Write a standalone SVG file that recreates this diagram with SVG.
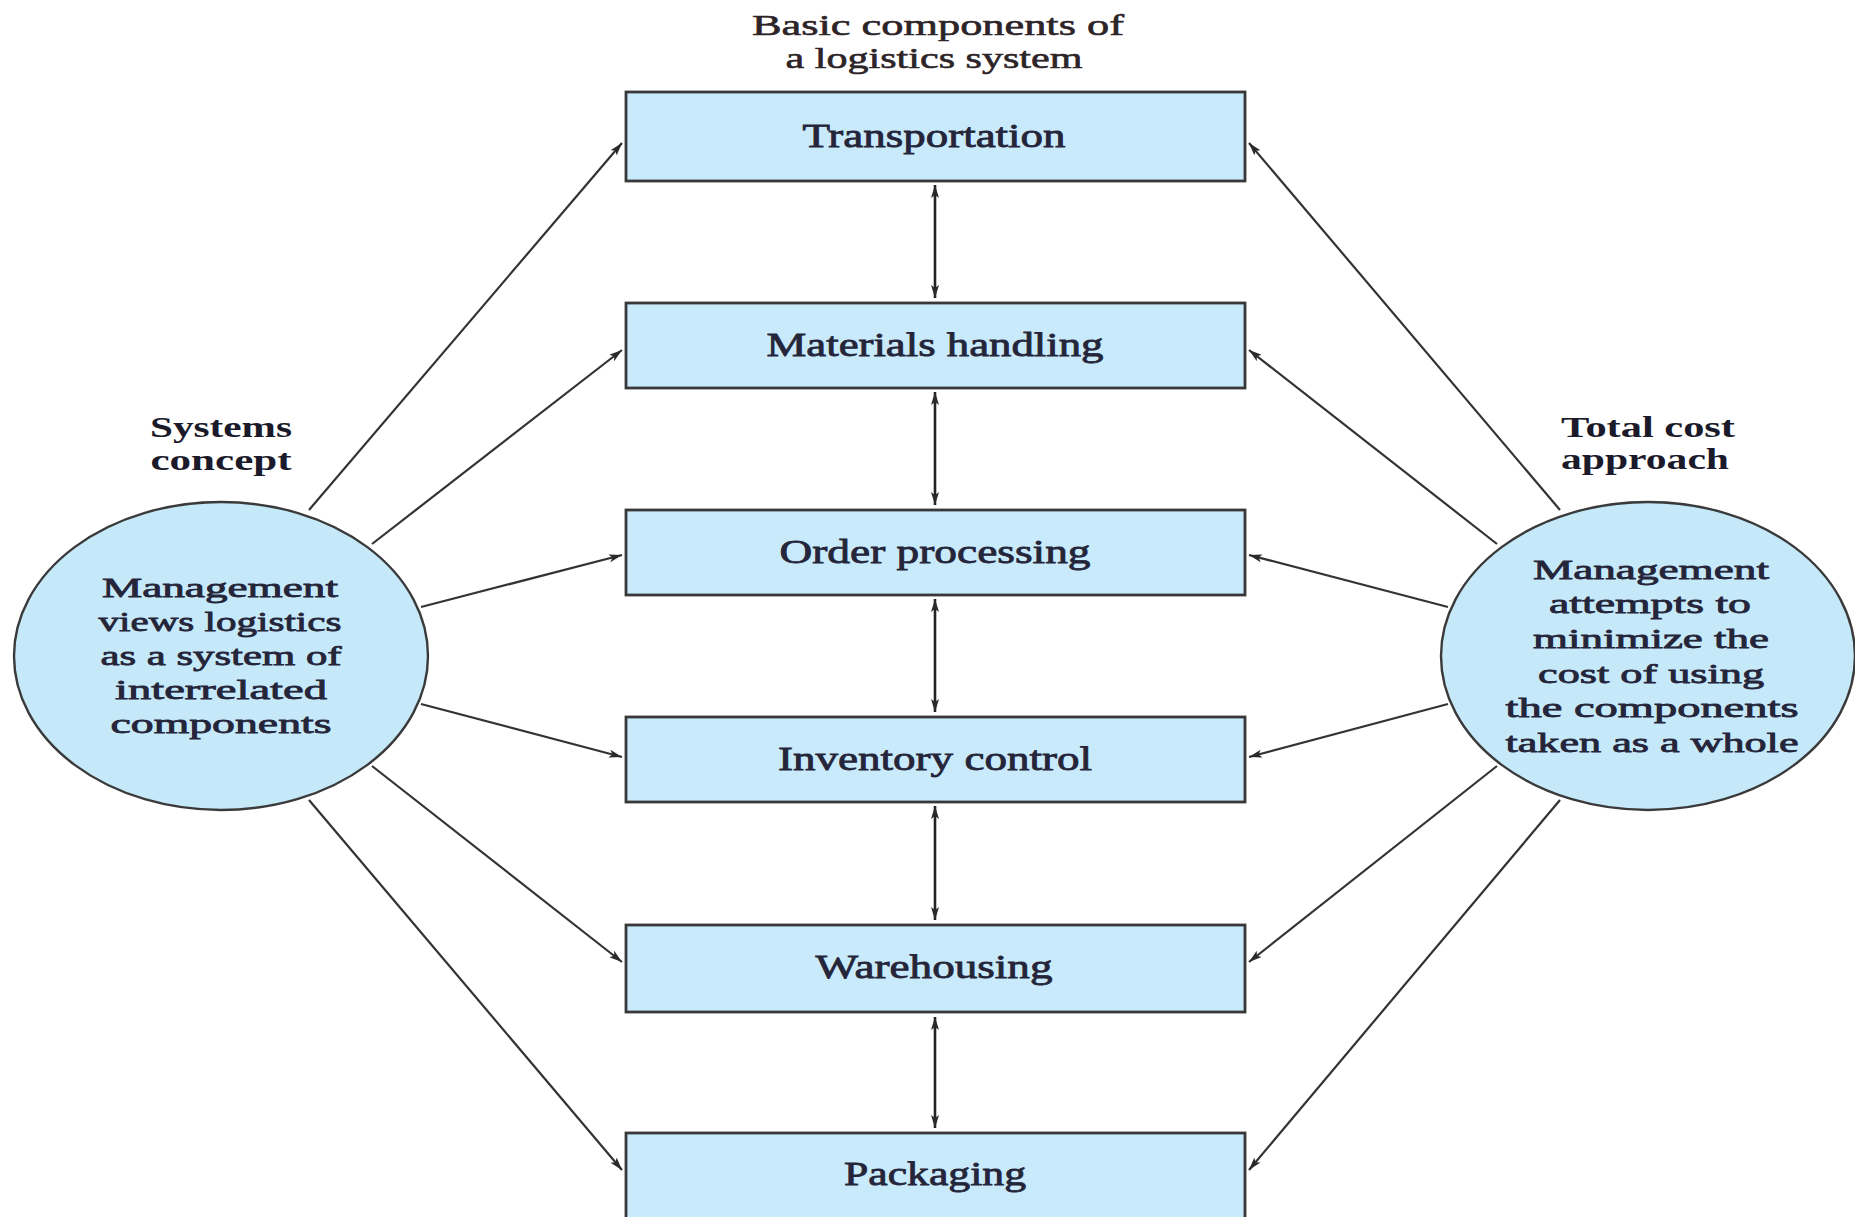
<svg xmlns="http://www.w3.org/2000/svg" width="1855" height="1217" viewBox="0 0 1855 1217">
<defs>
<marker id="ah" markerUnits="userSpaceOnUse" markerWidth="14" markerHeight="10" refX="13" refY="5" orient="auto-start-reverse">
<path d="M0,1 L13,5 L0,9 L3,5 z" fill="#2a2a2a"/>
</marker>
<style>
.box{fill:#c8eafb;stroke:#383838;stroke-width:2.8}
.ell{fill:#c6e9fa;stroke:#3a3a3a;stroke-width:2.4}
.lbl{font-family:"Liberation Serif","Times New Roman",serif;font-size:34px;fill:#25253a;stroke:#25253a;stroke-width:0.8;text-anchor:middle}
.etx{font-family:"Liberation Serif","Times New Roman",serif;font-size:28px;fill:#25253a;stroke:#25253a;stroke-width:0.8;text-anchor:middle}
.hd{font-family:"Liberation Serif","Times New Roman",serif;font-size:30px;fill:#2d2428;stroke:#2d2428;stroke-width:0.6;text-anchor:middle}
.bd{font-family:"Liberation Serif","Times New Roman",serif;font-size:30px;font-weight:bold;fill:#1a1a2a;text-anchor:middle}
.con{stroke:#333;stroke-width:2.2;fill:none;marker-end:url(#ah)}
.dbl{stroke:#222;stroke-width:2.6;fill:none;marker-end:url(#ah);marker-start:url(#ah)}
</style>
</defs>
<rect width="1855" height="1217" fill="#ffffff"/>

<g id="title">
<text class="hd" x="938" y="35" textLength="372" lengthAdjust="spacingAndGlyphs">Basic components of</text>
<text class="hd" x="934" y="68" textLength="297" lengthAdjust="spacingAndGlyphs">a logistics system</text>
</g>

<g id="connectors">
<line class="con" x1="309" y1="510" x2="622" y2="143"/>
<line class="con" x1="372" y1="544" x2="622" y2="350"/>
<line class="con" x1="421" y1="607" x2="622" y2="555"/>
<line class="con" x1="421" y1="704" x2="622" y2="757"/>
<line class="con" x1="372" y1="766" x2="622" y2="962"/>
<line class="con" x1="309" y1="800" x2="622" y2="1170"/>
<line class="con" x1="1560" y1="510" x2="1249" y2="143"/>
<line class="con" x1="1497" y1="544" x2="1249" y2="350"/>
<line class="con" x1="1448" y1="607" x2="1249" y2="555"/>
<line class="con" x1="1448" y1="704" x2="1249" y2="757"/>
<line class="con" x1="1497" y1="766" x2="1249" y2="962"/>
<line class="con" x1="1560" y1="800" x2="1249" y2="1170"/>
<line class="dbl" x1="935" y1="185" x2="935" y2="298"/>
<line class="dbl" x1="935" y1="392" x2="935" y2="505"/>
<line class="dbl" x1="935" y1="599" x2="935" y2="712"/>
<line class="dbl" x1="935" y1="806" x2="935" y2="920"/>
<line class="dbl" x1="935" y1="1017" x2="935" y2="1128"/>
</g>

<g id="transportation">
<rect class="box" x="626" y="92" width="619" height="89"/>
<text class="lbl" x="934" y="147" textLength="263" lengthAdjust="spacingAndGlyphs">Transportation</text>
</g>
<g id="materials-handling">
<rect class="box" x="626" y="303" width="619" height="85"/>
<text class="lbl" x="935" y="356" textLength="337" lengthAdjust="spacingAndGlyphs">Materials handling</text>
</g>
<g id="order-processing">
<rect class="box" x="626" y="510" width="619" height="85"/>
<text class="lbl" x="935" y="563" textLength="311" lengthAdjust="spacingAndGlyphs">Order processing</text>
</g>
<g id="inventory-control">
<rect class="box" x="626" y="717" width="619" height="85"/>
<text class="lbl" x="935" y="770" textLength="314" lengthAdjust="spacingAndGlyphs">Inventory control</text>
</g>
<g id="warehousing">
<rect class="box" x="626" y="925" width="619" height="87"/>
<text class="lbl" x="934" y="978" textLength="237" lengthAdjust="spacingAndGlyphs">Warehousing</text>
</g>
<g id="packaging">
<rect class="box" x="626" y="1133" width="619" height="92"/>
<text class="lbl" x="935" y="1185" textLength="182" lengthAdjust="spacingAndGlyphs">Packaging</text>
</g>

<g id="systems-concept">
<text class="bd" x="221" y="437" textLength="142" lengthAdjust="spacingAndGlyphs">Systems</text>
<text class="bd" x="221" y="470" textLength="141" lengthAdjust="spacingAndGlyphs">concept</text>
<ellipse class="ell" cx="221" cy="656" rx="207" ry="154"/>
<text class="etx" x="220" y="597" textLength="236" lengthAdjust="spacingAndGlyphs">Management</text>
<text class="etx" x="220" y="631" textLength="243" lengthAdjust="spacingAndGlyphs">views logistics</text>
<text class="etx" x="221" y="665" textLength="241" lengthAdjust="spacingAndGlyphs">as a system of</text>
<text class="etx" x="221" y="699" textLength="212" lengthAdjust="spacingAndGlyphs">interrelated</text>
<text class="etx" x="221" y="733" textLength="221" lengthAdjust="spacingAndGlyphs">components</text>
</g>

<g id="total-cost-approach">
<text class="bd" x="1648" y="437" textLength="174" lengthAdjust="spacingAndGlyphs">Total cost</text>
<text class="bd" x="1645" y="469" textLength="168" lengthAdjust="spacingAndGlyphs">approach</text>
<ellipse class="ell" cx="1648" cy="656" rx="207" ry="154"/>
<text class="etx" x="1651" y="579" textLength="236" lengthAdjust="spacingAndGlyphs">Management</text>
<text class="etx" x="1650" y="613" textLength="202" lengthAdjust="spacingAndGlyphs">attempts to</text>
<text class="etx" x="1651" y="648" textLength="236" lengthAdjust="spacingAndGlyphs">minimize the</text>
<text class="etx" x="1651" y="683" textLength="226" lengthAdjust="spacingAndGlyphs">cost of using</text>
<text class="etx" x="1652" y="717" textLength="293" lengthAdjust="spacingAndGlyphs">the components</text>
<text class="etx" x="1652" y="752" textLength="293" lengthAdjust="spacingAndGlyphs">taken as a whole</text>
</g>
</svg>
